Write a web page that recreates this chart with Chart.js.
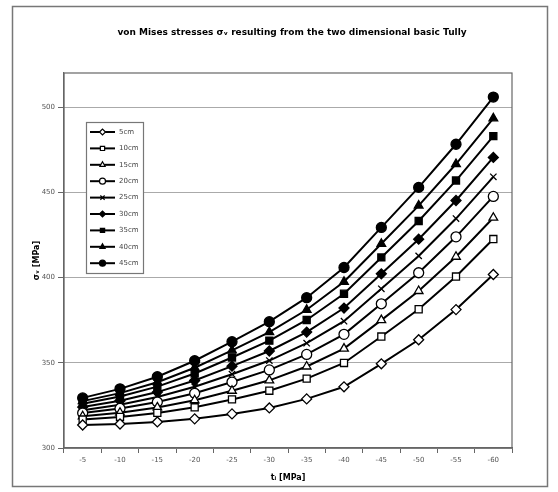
<!DOCTYPE html>
<html>
<head>
<meta charset="utf-8">
<script src="https://cdn.jsdelivr.net/npm/chart.js@4.4.1/dist/chart.umd.min.js"></script>
<style>
  html, body { margin: 0; padding: 0; background: #fff; }
  #wrap { width: 558px; height: 492px; position: relative; }
</style>
</head>
<body>
<div id="wrap"><canvas id="c" width="558" height="492"></canvas></div>
<script>
// x categories (t_i in MPa)
var categories = ['-5', '-10', '-15', '-20', '-25', '-30', '-35', '-40', '-45', '-50', '-55', '-60'];
var seriesNames = ['5cm', '10cm', '15cm', '20cm', '25cm', '30cm', '35cm', '40cm', '45cm'];
var yTicks = [300, 350, 400, 450, 500];
var chartTitle = 'von Mises stresses σᵥ resulting from the two dimensional basic Tully';

// von Mises stress values
var s5  = [313.5, 314.1, 315.3, 317.1, 320.0, 323.5, 328.8, 335.9, 349.4, 363.5, 381.2, 401.8];
var s10 = [316.7, 318.2, 320.6, 323.9, 328.5, 333.6, 340.7, 349.9, 365.4, 381.4, 400.6, 422.6];
var s15 = [318.6, 320.7, 323.8, 328.0, 333.6, 339.7, 347.8, 358.3, 375.0, 392.1, 412.2, 435.1];
var s20 = [320.5, 323.2, 327.0, 332.1, 338.7, 345.8, 354.9, 366.7, 384.6, 402.8, 423.9, 447.6];
var s25 = [322.2, 325.4, 329.9, 335.9, 343.3, 351.3, 361.5, 374.4, 393.4, 412.7, 434.6, 459.1];
var s30 = [324.0, 327.7, 332.8, 339.6, 348.0, 356.9, 368.0, 382.1, 402.2, 422.5, 445.2, 470.5];
var s35 = [325.9, 330.2, 336.0, 343.7, 353.1, 363.0, 375.1, 390.5, 411.8, 433.2, 456.9, 483.0];
var s40 = [327.5, 332.2, 338.6, 347.1, 357.3, 368.0, 381.1, 397.5, 419.8, 442.2, 466.6, 493.4];
var s45 = [329.4, 334.7, 341.8, 351.2, 362.4, 374.1, 388.2, 405.9, 429.4, 452.9, 478.2, 505.9];

var allSeries = [s5, s10, s15, s20, s25, s30, s35, s40, s45];
var markers = ['rectRot', 'rect', 'triangle', 'circle', 'crossRot', 'rectRot', 'rect', 'triangle', 'circle'];
var filled  = [false, false, false, false, false, true, true, true, true];

var datasets = allSeries.map(function (vals, i) {
    return {
        label: seriesNames[i],
        data: vals,
        borderColor: '#000',
        borderWidth: 2,
        pointStyle: markers[i],
        pointRadius: markers[i] == 'crossRot' ? 4.5 : 5,
        pointBorderWidth: 1.3,
        pointBorderColor: '#000',
        pointBackgroundColor: filled[i] ? '#000' : '#fff',
        tension: 0
    };
});

// frame around the whole chart, title, plot border
var framePlugin = {
    id: 'frame',
    beforeDraw: function (chart) {
        var ctx = chart.ctx;
        ctx.save();
        ctx.fillStyle = '#fff';
        ctx.fillRect(0, 0, chart.width, chart.height);
        ctx.strokeStyle = '#777';
        ctx.lineWidth = 1.5;
        ctx.strokeRect(12.5, 6.5, 535, 480);
        ctx.fillStyle = '#000';
        ctx.font = 'bold 9px "DejaVu Sans"';
        ctx.textAlign = 'center';
        ctx.textBaseline = 'middle';
        ctx.fillText(chartTitle, 292, 33);
        ctx.restore();
    },
    afterDatasetsDraw: function (chart) {
        var ctx = chart.ctx;
        var a = chart.chartArea;
        ctx.save();
        ctx.strokeStyle = '#666';
        ctx.lineWidth = 1.2;
        ctx.strokeRect(a.left, a.top, a.right - a.left, a.bottom - a.top);
        ctx.restore();
    }
};

// legend box inside the plot area
var boxLegend = {
    id: 'boxLegend',
    afterDraw: function (chart) {
        var ctx = chart.ctx;
        var x0 = 86, y0 = 122, w = 57, h = 151;
        ctx.save();
        ctx.fillStyle = '#fff';
        ctx.fillRect(x0, y0, w, h);
        ctx.strokeStyle = '#777';
        ctx.lineWidth = 1.2;
        ctx.strokeRect(x0 + 0.5, y0 + 0.5, w, h);
        ctx.font = '7px "DejaVu Sans"';
        ctx.textBaseline = 'middle';
        chart.data.datasets.forEach(function (ds, i) {
            var y = 132 + i * 16.4;
            ctx.strokeStyle = '#000';
            ctx.lineWidth = 2;
            ctx.beginPath();
            ctx.moveTo(90, y);
            ctx.lineTo(115, y);
            ctx.stroke();
            ctx.lineWidth = 1.2;
            ctx.fillStyle = ds.pointBackgroundColor;
            ctx.strokeStyle = '#000';
            Chart.helpers.drawPoint(ctx, { pointStyle: ds.pointStyle, radius: 3, rotation: 0, borderWidth: 1 }, 102.5, y);
            ctx.fillStyle = '#444';
            ctx.fillText(ds.label, 119, y);
        });
        ctx.restore();
    }
};

new Chart(document.getElementById('c'), {
    type: 'line',
    data: { labels: categories, datasets: datasets },
    plugins: [framePlugin, boxLegend],
    options: {
        responsive: false,
        animation: false,
        layout: { padding: { left: 0, right: 46, top: 73, bottom: 0 } },
        plugins: {
            legend: { display: false },
            tooltip: { enabled: false },
            title: { display: false }
        },
        scales: {
            x: {
                offset: true,
                grid: { offset: true, drawOnChartArea: false, drawTicks: true, tickLength: 5, color: '#666' },
                border: { color: '#666', width: 1.2 },
                ticks: { color: '#555', font: { family: 'DejaVu Sans', size: 7 }, padding: 3, maxRotation: 0, autoSkip: false },
                title: { display: true, text: 'tᵢ [MPa]', color: '#000', font: { family: 'DejaVu Sans', size: 8, weight: 'bold' }, padding: { top: 0, bottom: 9 } },
                afterFit: function (s) { s.height = 44; }
            },
            y: {
                min: 300,
                max: 520,
                grid: { color: '#aaa', lineWidth: 1, tickLength: 6, tickColor: '#666' },
                border: { color: '#666', width: 1.2 },
                ticks: {
                    stepSize: 50,
                    includeBounds: false,
                    color: '#555',
                    font: { family: 'DejaVu Sans', size: 7 },
                    padding: 3,
                    callback: function (v) { return yTicks.indexOf(v) >= 0 ? v : ''; }
                },
                title: { display: true, text: 'σᵥ [MPa]', color: '#000', font: { family: 'DejaVu Sans', size: 8, weight: 'bold' }, padding: { top: 32, bottom: 0 } },
                afterFit: function (s) { s.width = 64; }
            }
        }
    }
});
</script>
</body>
</html>
